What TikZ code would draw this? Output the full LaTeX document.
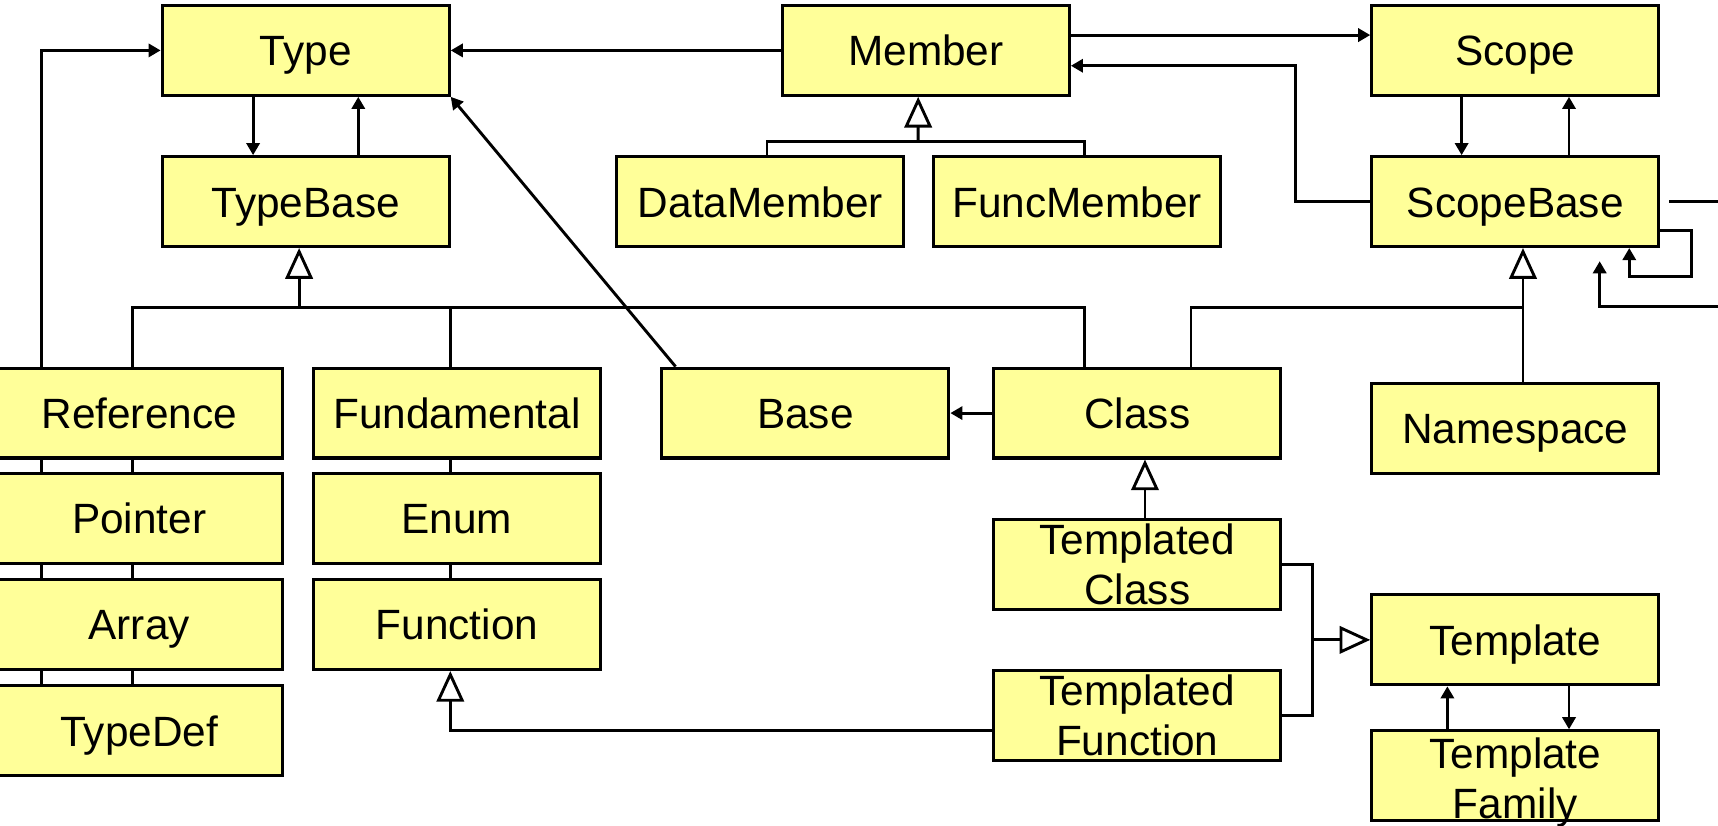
\documentclass[tikz,border=0pt]{standalone}
\usepackage{fontspec}
\setmainfont{Liberation Sans}
\usetikzlibrary{arrows.meta,backgrounds}
\definecolor{boxyellow}{HTML}{FFFF99}

\begin{document}
\begin{tikzpicture}[
  box/.style={rectangle, draw, line width=0.8pt, fill=boxyellow, minimum width=2.62cm,
    minimum height=0.82cm, inner sep=0pt, align=center, font=\fontsize{11}{13}\selectfont},
  cls/.style={box, text height=8pt, text depth=0pt},
  cls2/.style={box},
  line/.style={line width=0.75pt},
  assoc/.style={line, -{Triangle[length=0.11cm,width=0.12cm]}},
  inherit/.style={line, -{Triangle[open,fill=white,length=0.28cm,width=0.25cm]}}
]
\useasboundingbox (0,0) rectangle (15.68,-7.53);

\node[cls] (type) at (2.79,-0.46) {Type};
\node[cls] (typebase) at (2.79,-1.84) {TypeBase};
\node[cls] (member) at (8.45,-0.46) {Member};
\node[cls] (datamember) at (6.94,-1.84) {DataMember};
\node[cls] (funcmember) at (9.83,-1.84) {FuncMember};
\node[cls] (scope) at (13.83,-0.46) {Scope};
\node[cls] (scopebase) at (13.83,-1.84) {ScopeBase};

\node[cls] (reference) at (1.27,-3.77) {Reference};
\node[cls] (pointer) at (1.27,-4.73) {Pointer};
\node[cls] (array) at (1.27,-5.70) {Array};
\node[cls] (typedef) at (1.27,-6.67) {TypeDef};
\node[cls] (fundamental) at (4.17,-3.77) {Fundamental};
\node[cls] (enum) at (4.17,-4.73) {Enum};
\node[cls] (function) at (4.17,-5.70) {Function};
\node[cls] (base) at (7.35,-3.77) {Base};
\node[cls] (class) at (10.38,-3.77) {Class};
\node[cls] (namespace) at (13.83,-3.91) {Namespace};

\node[cls2] (tplclass) at (10.38,-5.15) {Templated\\Class};
\node[cls2] (tplfunction) at (10.38,-6.53) {Templated\\Function};
\node[cls] (template) at (13.83,-5.84) {Template};
\node[cls2, text height=22.1pt, text depth=0pt] (tplfamily) at (13.83,-7.08) {Template\\Family};

\coordinate (tbbar) at (2.73,-2.81);
\coordinate (mbar) at (8.38,-1.29);
\coordinate (tjoin) at (11.98,-5.84);
\coordinate (eastout) at (15.75,-1.84);
\coordinate (eastin) at (15.75,-2.80);

\begin{pgfonlayer}{background}
% uses
\draw[assoc] (member.west) -- (type.east);
\draw[assoc] ([yshift=0.14cm]member.east) -- ([yshift=0.14cm]member.east -| scope.west);
\draw[assoc] (scopebase.west) -- ++(-0.68,0) |- ([yshift=-0.14cm]member.east);
\draw[assoc] ([xshift=-0.48cm]type.south) -- ([xshift=-0.48cm]typebase.north);
\draw[assoc] ([xshift=0.48cm]typebase.north) -- ([xshift=0.48cm]type.south);
\draw[assoc] ([xshift=-0.49cm]scope.south) -- ([xshift=-0.49cm]scopebase.north);
\draw[assoc] ([xshift=0.49cm]scopebase.north) -- ([xshift=0.49cm]scope.south);
\draw[assoc] ([xshift=-0.89cm]typedef.north) |- (type.west);
\draw[assoc] ([xshift=0.14cm]base.north west) -- (type.south east);
\draw[assoc] (class.west) -- (base.east);
\draw[assoc] ([xshift=-0.62cm]tplfamily.north) -- ([xshift=-0.62cm]template.south);
\draw[assoc] ([xshift=0.49cm]template.south) -- ([xshift=0.49cm]tplfamily.north);
\draw[assoc] ([yshift=-0.26cm]scopebase.east) -| ++(0.28,-0.42) -| ([xshift=1.04cm]scopebase.south);
\draw[line] ([xshift=0.08cm]scopebase.east) -- (eastout);
\draw[assoc] (eastin) -| ([xshift=0.77cm,yshift=-0.12cm]scopebase.south);

% inheritance
\draw[inherit] (tbbar) -- ([xshift=-0.06cm]typebase.south);
\draw[line] ([xshift=-0.06cm]typedef.north) |- ([xshift=-0.48cm]class.north |- tbbar) -- ([xshift=-0.48cm]class.north);
\draw[line] ([xshift=-0.06cm]function.north) -- ([xshift=-0.06cm]function.north |- tbbar);
\draw[inherit] (mbar) -- ([xshift=-0.07cm]member.south);
\draw[line] ([xshift=0.06cm]datamember.north) |- (mbar) -| ([xshift=0.07cm]funcmember.north);
\draw[inherit] ([xshift=0.07cm]namespace.north) -- ([xshift=0.07cm]scopebase.south);
\draw[line] ([xshift=0.49cm]class.north) |- ([xshift=0.07cm]namespace.north |- tbbar);
\draw[inherit] ([xshift=0.07cm]tplclass.north) -- ([xshift=0.07cm]class.south);
\draw[inherit] ([yshift=-0.14cm]tplfunction.west) -| ([xshift=-0.06cm]function.south);
\draw[line] (tplclass.east) -| (tjoin) |- (tplfunction.east);
\draw[inherit] (tjoin) -- (template.west);
\end{pgfonlayer}
\end{tikzpicture}
\end{document}
